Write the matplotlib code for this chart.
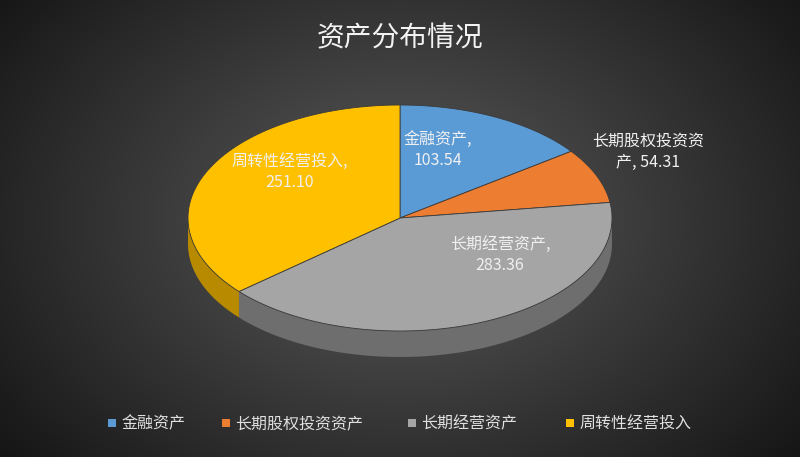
import numpy as np
import matplotlib
matplotlib.use('agg')
import matplotlib.pyplot as plt
from matplotlib.patches import Polygon, Rectangle

plt.rcParams['font.family'] = ['Noto Sans CJK SC', 'DejaVu Sans']

title = '资产分布情况'
labels = ['金融资产', '长期股权投资资产', '长期经营资产', '周转性经营投入']
values = [103.54, 54.31, 283.36, 251.10]
colors = ['#5B9BD5', '#ED7D31', '#A5A5A5', '#FFC000']
side_colors = ['#3E6E9C', '#A85520', '#6E6E6E', '#B88A00']
label_text = ['金融资产,\n103.54', '长期股权投资资\n产, 54.31', '长期经营资产,\n283.36', '周转性经营投入,\n251.10']
label_pos = [(438, 150), (648, 152), (500, 255), (290, 172)]

W, H = 800, 457
fig = plt.figure(figsize=(8, 4.57), dpi=100)
ax = fig.add_axes([0, 0, 1, 1])
ax.set_xlim(0, W)
ax.set_ylim(H, 0)
ax.axis('off')

# radial gradient background
yy, xx = np.mgrid[0:H, 0:W]
d = np.sqrt(((xx - 400) / 520) ** 2 + ((yy - 220) / 380) ** 2)
g = np.clip(0.36 - 0.28 * d, 0.05, 1)
ax.imshow(np.dstack([g, g, g]), extent=(0, W, H, 0), zorder=0)

cx, cy, rx, ry, depth = 400, 218, 212, 113, 26
total = sum(values)
fr = np.cumsum([0] + values) / total
t_start = 90 - fr[:-1] * 360
t_end = 90 - fr[1:] * 360

def pt(t, dy=0):
    r = np.radians(t)
    return cx + rx * np.cos(r), cy - ry * np.sin(r) + dy

# sides (visible lower half: angle in (180,360) i.e. (-180,0))
for i in range(len(values)):
    a, b = t_end[i], t_start[i]  # a < b
    lo, hi = max(a, -180), min(b, 0)
    if lo >= hi:
        continue
    ts = np.linspace(lo, hi, 80)
    top = [pt(t) for t in ts]
    bot = [pt(t, depth) for t in ts[::-1]]
    ax.add_patch(Polygon(top + bot, closed=True, fc=side_colors[i], ec='none', zorder=2))

# top faces
for i in range(len(values)):
    ts = np.linspace(t_start[i], t_end[i], 120)
    poly = [(cx, cy)] + [pt(t) for t in ts]
    ax.add_patch(Polygon(poly, closed=True, fc=colors[i], ec='#3a3a3a', lw=0.6, zorder=3))

for txt, (x, y) in zip(label_text, label_pos):
    ax.text(x, y, txt, ha='center', va='center', fontsize=11.5, color='#F0F0F0',
            linespacing=1.3, zorder=5)

ax.text(400, 38, title, ha='center', va='center', fontsize=20, color='#F2F2F2', zorder=5)

# legend
lx = [108, 222, 408, 566]
for x, lab, c in zip(lx, labels, colors):
    ax.add_patch(Rectangle((x, 419), 8, 8, fc=c, ec='none', zorder=5))
    ax.text(x + 13, 424, lab, ha='left', va='center', fontsize=11.5, color='#E0E0E0', zorder=5)

fig.savefig('out.png', dpi=100)
